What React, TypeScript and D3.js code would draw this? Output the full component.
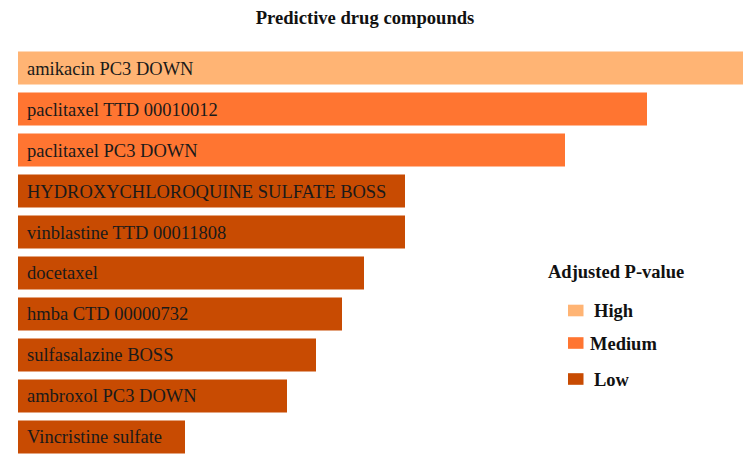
import React from "react";
import * as d3 from "d3";

const compounds = [
  "amikacin PC3 DOWN",
  "paclitaxel TTD 00010012",
  "paclitaxel PC3 DOWN",
  "HYDROXYCHLOROQUINE SULFATE BOSS",
  "vinblastine TTD 00011808",
  "docetaxel",
  "hmba CTD 00000732",
  "sulfasalazine BOSS",
  "ambroxol PC3 DOWN",
  "Vincristine sulfate",
];
const scores = [7.25, 6.29, 5.47, 3.87, 3.87, 3.46, 3.24, 2.98, 2.69, 1.67];
const pLevels = ["High", "Medium", "Medium", "Low", "Low", "Low", "Low", "Low", "Low", "Low"];
const legendLevels = ["High", "Medium", "Low"];
const levelColors = ["#FFB474", "#FF7531", "#C84B02"];

const W = 750;
const H = 466;

export default function App() {
  const x = d3.scaleLinear().domain([0, d3.max(scores) as number]).range([18, 743]);
  const y = d3
    .scaleBand<string>()
    .domain(compounds)
    .range([47.4, 457.6])
    .paddingInner(0.195)
    .paddingOuter(0.1);
  const color = d3.scaleOrdinal<string, string>().domain(legendLevels).range(levelColors);
  const legendY = [310.5, 343, 379];
  const legendTextX = [594, 590, 594];

  return (
    <svg
      width={W}
      height={H}
      style={{ position: "absolute", left: 0, top: 0, fontFamily: "'Liberation Serif', 'Times New Roman', serif" }}
    >
      <rect width={W} height={H} fill="#ffffff" />
      <text x={365} y={24} textAnchor="middle" fontWeight="bold" fontSize={18.6} fill="#111">
        Predictive drug compounds
      </text>
      {compounds.map((c, i) => (
        <g key={c}>
          <rect
            x={x(0)}
            y={y(c)}
            width={x(scores[i]) - x(0)}
            height={y.bandwidth()}
            fill={color(pLevels[i])}
          />
          <text x={27} y={(y(c) as number) + y.bandwidth() / 2 + 6.5} fontSize={18.5} fill="#1a1a1a">
            {c}
          </text>
        </g>
      ))}
      <text x={548} y={278} fontWeight="bold" fontSize={18.5} fill="#111">
        Adjusted P-value
      </text>
      {legendLevels.map((l, i) => (
        <g key={l}>
          <rect x={568} y={legendY[i] - 5.8} width={15.5} height={11.6} fill={color(l)} />
          <text x={legendTextX[i]} y={legendY[i] + 6.5} fontWeight="bold" fontSize={18.5} fill="#111">
            {l}
          </text>
        </g>
      ))}
    </svg>
  );
}
